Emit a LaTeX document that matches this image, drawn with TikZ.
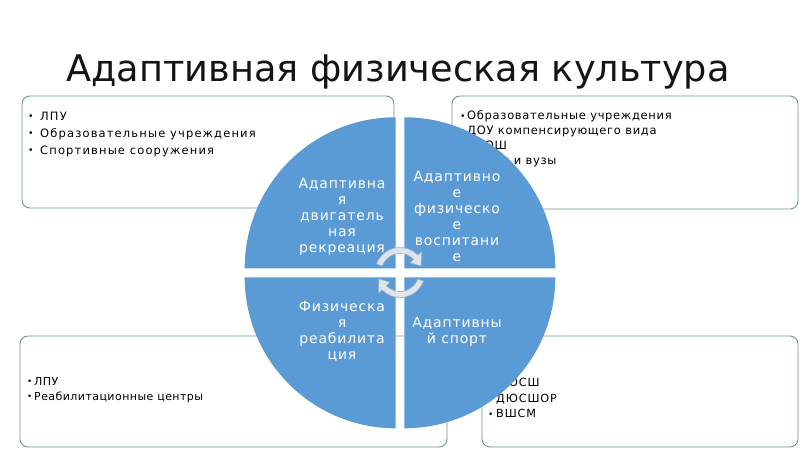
\documentclass[tikz,border=0pt]{standalone}
\usepackage{fontspec}
\setmainfont{DejaVu Sans}
\newfontfamily\titlefont{DejaVu Sans}
\newfontfamily\quadfont[LetterSpace=6]{DejaVu Sans}
\newfontfamily\boxfontA[LetterSpace=10]{DejaVu Sans}
\newfontfamily\boxfontB[LetterSpace=6]{DejaVu Sans}
\newfontfamily\boxfontC[LetterSpace=4]{DejaVu Sans}
\newfontfamily\boxfontD[LetterSpace=8]{DejaVu Sans}
\definecolor{qblue}{RGB}{91,155,213}
\definecolor{boxline}{RGB}{115,145,155}
\definecolor{arrfill}{RGB}{222,228,236}
\definecolor{arrline}{RGB}{160,176,196}
\definecolor{titlecol}{RGB}{20,20,20}
\newcommand{\bitem}[2]{\makebox[#1][l]{\raisebox{0.5pt}{\scalebox{0.8}{•}}}#2}
\tikzset{
  infobox/.style={draw=boxline, line width=0.9pt, rounded corners=8pt, fill=white},
  quadrant/.style={fill=qblue},
  quadtext/.style={text=white, align=center, inner sep=0pt, font=\quadfont\fontsize{14}{16}\selectfont},
  listtext/.style={text=black, align=left, inner sep=0pt, anchor=north west},
  cyclearrow/.style={fill=arrfill, draw=arrline, line width=0.6pt, line join=round}
}
\begin{document}
\begin{tikzpicture}[x=1pt,y=-1pt]
\useasboundingbox (0,0) rectangle (800,449);
\fill[white] (0,0) rectangle (800,449);

% title
\node[text=titlecol, anchor=base, inner sep=0pt, font=\titlefont\fontsize{36.7}{40}\selectfont] (title) at (398,82) {Адаптивная физическая культура};

% boxes
\draw[infobox] (22,96) rectangle (394,208);
\draw[infobox] (452,96) rectangle (798,209);
\draw[infobox] (20,336) rectangle (447,447);
\draw[infobox] (482,336) rectangle (798,447);

% box texts
\node[listtext, font=\boxfontA\fontsize{11.5}{17}\selectfont] (tltext) at (28,111.5)
 {\bitem{12pt}{ЛПУ}\\ \bitem{12pt}{Образовательные учреждения}\\ \bitem{12pt}{Спортивные сооружения}};
\node[listtext, font=\boxfontB\fontsize{11.5}{15}\selectfont] (trtext) at (460,110.5)
 {\bitem{7pt}{Образовательные учреждения}\\ \bitem{7pt}{ДОУ компенсирующего вида}\\ \bitem{7pt}{СКОШ}\\ \bitem{7pt}{ССУЗы и вузы}};
\node[listtext, font=\boxfontC\fontsize{11}{15}\selectfont] (bltext) at (27,377)
 {\bitem{7pt}{ЛПУ}\\ \bitem{7pt}{Реабилитационные центры}};
\node[listtext, font=\boxfontD\fontsize{11.2}{15.5}\selectfont] (brtext) at (488,378)
 {\bitem{8pt}{ДЮСШ}\\ \bitem{8pt}{ДЮСШОР}\\ \bitem{8pt}{ВШСМ}};

% circle quadrants
\fill[quadrant] (395.7,268.3) -- ++(180:151) arc[start angle=180,end angle=270,radius=151] -- cycle;
\fill[quadrant] (404.3,268.3) -- ++(270:151) arc[start angle=270,end angle=360,radius=151] -- cycle;
\fill[quadrant] (404.3,277.3) -- ++(0:151) arc[start angle=0,end angle=90,radius=151] -- cycle;
\fill[quadrant] (395.7,277.3) -- ++(90:151) arc[start angle=90,end angle=180,radius=151] -- cycle;

% quadrant labels
\node[quadtext] (q1) at (342,217) {Адаптивна\\я\\двигатель\\ная\\рекреация};
\node[quadtext] (q2) at (457,216.5) {Адаптивно\\е\\физическо\\е\\воспитани\\е};
\node[quadtext] (q3) at (342,331.5) {Физическа\\я\\реабилита\\ция};
\node[quadtext] (q4) at (457,331.5) {Адаптивны\\й спорт};

% cycle arrows
\begin{scope}[shift={(400,272.5)}]
\filldraw[cyclearrow] (200:25) arc[start angle=200,end angle=316,radius=25]
  -- (316:30) -- (343:22) -- (316:14) -- (316:19)
  arc[start angle=316,end angle=200,radius=19] -- cycle;
\filldraw[cyclearrow] (20:25) arc[start angle=20,end angle=136,radius=25]
  -- (136:30) -- (163:22) -- (136:14) -- (136:19)
  arc[start angle=136,end angle=20,radius=19] -- cycle;
\end{scope}
\end{tikzpicture}
\end{document}
